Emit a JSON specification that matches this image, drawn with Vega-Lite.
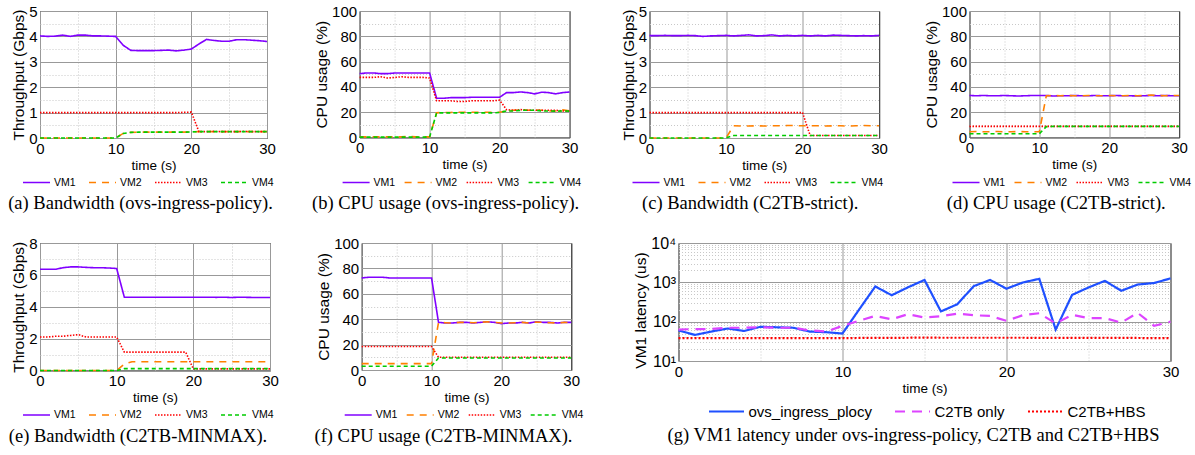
{
"$schema": "https://vega.github.io/schema/vega-lite/v6.json",
"background": "white",
"padding": {"left": 7, "top": 3, "right": 0, "bottom": 0},
"config": {
 "view": {"stroke": "#000", "strokeWidth": 1},
 "font": "Liberation Sans",
 "axis": {"domain": false, "ticks": false, "labelFont": "Liberation Sans", "labelFontSize": 15, "labelColor": "#000", "labelPadding": 3, "labelFlush": false, "labelOverlap": false, "titleFont": "Liberation Sans", "titleFontWeight": "normal", "titleColor": "#000", "gridWidth": 1},
 "axisX": {"titleFontSize": 13.5, "titlePadding": 2},
 "axisY": {"titleFontSize": 15.5, "titlePadding": 2},
 "legend": {"orient": "none", "direction": "horizontal", "title": null, "labelFont": "Liberation Sans", "labelFontSize": 10.5, "labelColor": "#000", "symbolType": "stroke", "symbolSize": 729, "symbolStrokeWidth": 1.6, "labelOffset": 3, "columnPadding": 9, "padding": 0},
 "title": {"orient": "bottom", "font": "Liberation Serif", "fontSize": 18.5, "fontWeight": "normal", "color": "#000", "anchor": "middle", "offset": 6}
},
"datasets": {
 "a": [
  {"t":0,"VM1":4.02,"VM2":0,"VM3":1,"VM4":0},{"t":1,"VM1":4.0,"VM2":0,"VM3":1,"VM4":0},{"t":2,"VM1":4.01,"VM2":0,"VM3":1,"VM4":0},{"t":3,"VM1":4.05,"VM2":0,"VM3":1,"VM4":0},{"t":4,"VM1":4.0,"VM2":0,"VM3":1,"VM4":0},{"t":5,"VM1":4.05,"VM2":0,"VM3":1,"VM4":0},{"t":6,"VM1":4.05,"VM2":0,"VM3":1,"VM4":0},{"t":7,"VM1":4.02,"VM2":0,"VM3":1,"VM4":0},{"t":8,"VM1":4.02,"VM2":0,"VM3":1,"VM4":0},{"t":9,"VM1":4.01,"VM2":0,"VM3":1,"VM4":0},{"t":10,"VM1":4.0,"VM2":0,"VM3":1,"VM4":0},
  {"t":11,"VM1":3.65,"VM2":0.18,"VM3":1,"VM4":0.18},{"t":12,"VM1":3.45,"VM2":0.22,"VM3":1,"VM4":0.22},{"t":13,"VM1":3.44,"VM2":0.23,"VM3":1,"VM4":0.23},{"t":14,"VM1":3.44,"VM2":0.23,"VM3":1,"VM4":0.23},{"t":15,"VM1":3.44,"VM2":0.23,"VM3":1,"VM4":0.23},{"t":16,"VM1":3.45,"VM2":0.23,"VM3":1,"VM4":0.23},{"t":17,"VM1":3.46,"VM2":0.23,"VM3":1,"VM4":0.23},{"t":18,"VM1":3.43,"VM2":0.23,"VM3":1,"VM4":0.23},{"t":19,"VM1":3.46,"VM2":0.23,"VM3":1.01,"VM4":0.23},{"t":20,"VM1":3.5,"VM2":0.24,"VM3":1.02,"VM4":0.24},
  {"t":21,"VM1":3.7,"VM2":0.25,"VM3":0.25,"VM4":0.25},{"t":22,"VM1":3.88,"VM2":0.25,"VM3":0.25,"VM4":0.25},{"t":23,"VM1":3.84,"VM2":0.25,"VM3":0.26,"VM4":0.25},{"t":24,"VM1":3.81,"VM2":0.25,"VM3":0.25,"VM4":0.25},{"t":25,"VM1":3.81,"VM2":0.25,"VM3":0.25,"VM4":0.25},{"t":26,"VM1":3.87,"VM2":0.25,"VM3":0.25,"VM4":0.25},{"t":27,"VM1":3.87,"VM2":0.25,"VM3":0.26,"VM4":0.25},{"t":28,"VM1":3.85,"VM2":0.25,"VM3":0.25,"VM4":0.25},{"t":29,"VM1":3.83,"VM2":0.25,"VM3":0.25,"VM4":0.25},{"t":30,"VM1":3.8,"VM2":0.25,"VM3":0.25,"VM4":0.25}
 ],
 "b": [
  {"t":0,"VM1":50.5,"VM2":0.5,"VM3":47.5,"VM4":0.3},{"t":1,"VM1":51,"VM2":0.5,"VM3":47.5,"VM4":0.3},{"t":2,"VM1":51,"VM2":0.5,"VM3":47.5,"VM4":0.3},{"t":3,"VM1":50.5,"VM2":0.5,"VM3":48,"VM4":0.3},{"t":4,"VM1":50.5,"VM2":0.5,"VM3":47,"VM4":0.3},{"t":5,"VM1":51,"VM2":0.5,"VM3":47.5,"VM4":0.3},{"t":6,"VM1":51,"VM2":0.5,"VM3":48,"VM4":0.3},{"t":7,"VM1":51,"VM2":0.8,"VM3":47.5,"VM4":0.3},{"t":8,"VM1":51,"VM2":0.5,"VM3":47.5,"VM4":0.3},{"t":9,"VM1":51,"VM2":0.5,"VM3":47.5,"VM4":0.3},{"t":10,"VM1":51,"VM2":0.5,"VM3":47,"VM4":0.3},
  {"t":11,"VM1":31,"VM2":19.5,"VM3":29,"VM4":19.5},{"t":12,"VM1":31,"VM2":19.8,"VM3":29,"VM4":19.5},{"t":13,"VM1":31.5,"VM2":19.8,"VM3":29,"VM4":19.5},{"t":14,"VM1":31.5,"VM2":20,"VM3":28.5,"VM4":19.5},{"t":15,"VM1":31.5,"VM2":20,"VM3":28.5,"VM4":19.5},{"t":16,"VM1":31.8,"VM2":20,"VM3":29,"VM4":19.5},{"t":17,"VM1":31.8,"VM2":20,"VM3":29,"VM4":19.5},{"t":18,"VM1":31.8,"VM2":20,"VM3":29,"VM4":19.5},{"t":19,"VM1":31.8,"VM2":20,"VM3":29,"VM4":19.5},{"t":20,"VM1":31.8,"VM2":20,"VM3":29.5,"VM4":19.8},
  {"t":21,"VM1":35.5,"VM2":21,"VM3":22,"VM4":21},{"t":22,"VM1":35.5,"VM2":21.5,"VM3":21.5,"VM4":21},{"t":23,"VM1":36,"VM2":22,"VM3":22,"VM4":21.5},{"t":24,"VM1":35.5,"VM2":21.5,"VM3":21.5,"VM4":21.5},{"t":25,"VM1":34.5,"VM2":21.8,"VM3":21.5,"VM4":21.5},{"t":26,"VM1":35.8,"VM2":21.5,"VM3":21.5,"VM4":21},{"t":27,"VM1":35.5,"VM2":21,"VM3":21.5,"VM4":21},{"t":28,"VM1":34.5,"VM2":21,"VM3":21.5,"VM4":20.8},{"t":29,"VM1":35.5,"VM2":21.8,"VM3":21,"VM4":21},{"t":30,"VM1":36,"VM2":21,"VM3":21,"VM4":20.8}
 ],
 "c": [
  {"t":0,"VM1":4.03,"VM2":0,"VM3":1,"VM4":0},{"t":1,"VM1":4.03,"VM2":0,"VM3":1,"VM4":0},{"t":2,"VM1":4.04,"VM2":0,"VM3":1,"VM4":0},{"t":3,"VM1":4.03,"VM2":0,"VM3":1,"VM4":0},{"t":4,"VM1":4.03,"VM2":0,"VM3":1,"VM4":0},{"t":5,"VM1":4.04,"VM2":0,"VM3":1,"VM4":0},{"t":6,"VM1":4.03,"VM2":0,"VM3":1,"VM4":0},{"t":7,"VM1":4.0,"VM2":0,"VM3":1,"VM4":0},{"t":8,"VM1":4.02,"VM2":0,"VM3":1,"VM4":0},{"t":9,"VM1":4.03,"VM2":0,"VM3":1,"VM4":0},{"t":10,"VM1":4.04,"VM2":0,"VM3":1,"VM4":0},
  {"t":11,"VM1":4.02,"VM2":0.48,"VM3":1,"VM4":0.1},{"t":12,"VM1":4.04,"VM2":0.47,"VM3":1,"VM4":0.1},{"t":13,"VM1":4.06,"VM2":0.47,"VM3":1,"VM4":0.1},{"t":14,"VM1":4.02,"VM2":0.48,"VM3":1,"VM4":0.1},{"t":15,"VM1":4.03,"VM2":0.47,"VM3":1,"VM4":0.1},{"t":16,"VM1":4.06,"VM2":0.48,"VM3":1,"VM4":0.1},{"t":17,"VM1":4.02,"VM2":0.48,"VM3":1,"VM4":0.1},{"t":18,"VM1":4.04,"VM2":0.49,"VM3":1,"VM4":0.1},{"t":19,"VM1":4.02,"VM2":0.49,"VM3":1,"VM4":0.1},{"t":20,"VM1":4.04,"VM2":0.48,"VM3":1,"VM4":0.1},
  {"t":21,"VM1":4.02,"VM2":0.48,"VM3":0.1,"VM4":0.1},{"t":22,"VM1":4.04,"VM2":0.48,"VM3":0.1,"VM4":0.1},{"t":23,"VM1":4.02,"VM2":0.47,"VM3":0.1,"VM4":0.1},{"t":24,"VM1":4.05,"VM2":0.48,"VM3":0.1,"VM4":0.1},{"t":25,"VM1":4.04,"VM2":0.48,"VM3":0.1,"VM4":0.1},{"t":26,"VM1":4.03,"VM2":0.47,"VM3":0.1,"VM4":0.1},{"t":27,"VM1":4.02,"VM2":0.48,"VM3":0.1,"VM4":0.1},{"t":28,"VM1":4.03,"VM2":0.49,"VM3":0.1,"VM4":0.1},{"t":29,"VM1":4.02,"VM2":0.48,"VM3":0.1,"VM4":0.1},{"t":30,"VM1":4.04,"VM2":0.48,"VM3":0.1,"VM4":0.1}
 ],
 "d": [
  {"t":0,"VM1":33.2,"VM2":4.5,"VM3":8.8,"VM4":3},{"t":1,"VM1":33,"VM2":4.8,"VM3":8.8,"VM4":3},{"t":2,"VM1":33.2,"VM2":4.5,"VM3":8.8,"VM4":3},{"t":3,"VM1":33,"VM2":4.5,"VM3":8.8,"VM4":3},{"t":4,"VM1":33,"VM2":4.8,"VM3":8.8,"VM4":3},{"t":5,"VM1":33.2,"VM2":4.5,"VM3":8.8,"VM4":3},{"t":6,"VM1":33,"VM2":4.5,"VM3":8.8,"VM4":3},{"t":7,"VM1":32.8,"VM2":4.8,"VM3":8.8,"VM4":3},{"t":8,"VM1":33,"VM2":4.5,"VM3":8.8,"VM4":3},{"t":9,"VM1":33.2,"VM2":4.5,"VM3":8.8,"VM4":3},{"t":10,"VM1":33.2,"VM2":4.5,"VM3":8.8,"VM4":3},
  {"t":11,"VM1":33.2,"VM2":33,"VM3":8.8,"VM4":8.6},{"t":12,"VM1":32.8,"VM2":33.2,"VM3":8.8,"VM4":8.8},{"t":13,"VM1":33,"VM2":33,"VM3":8.8,"VM4":8.8},{"t":14,"VM1":33,"VM2":33.2,"VM3":8.8,"VM4":8.8},{"t":15,"VM1":33.2,"VM2":33,"VM3":8.8,"VM4":8.8},{"t":16,"VM1":33,"VM2":33,"VM3":8.8,"VM4":8.8},{"t":17,"VM1":33,"VM2":33.2,"VM3":8.8,"VM4":8.8},{"t":18,"VM1":33.2,"VM2":33,"VM3":8.8,"VM4":8.8},{"t":19,"VM1":33,"VM2":33,"VM3":8.8,"VM4":8.8},{"t":20,"VM1":33,"VM2":33.2,"VM3":8.8,"VM4":8.8},
  {"t":21,"VM1":33.2,"VM2":33,"VM3":8.8,"VM4":8.8},{"t":22,"VM1":33,"VM2":33,"VM3":8.8,"VM4":8.8},{"t":23,"VM1":33,"VM2":33.2,"VM3":8.8,"VM4":8.8},{"t":24,"VM1":32.8,"VM2":33,"VM3":8.8,"VM4":8.8},{"t":25,"VM1":33,"VM2":33.2,"VM3":8.8,"VM4":8.8},{"t":26,"VM1":33.2,"VM2":33.5,"VM3":8.8,"VM4":8.8},{"t":27,"VM1":33,"VM2":33.2,"VM3":8.8,"VM4":8.8},{"t":28,"VM1":33.2,"VM2":33,"VM3":8.8,"VM4":8.8},{"t":29,"VM1":33,"VM2":33.2,"VM3":8.8,"VM4":8.8},{"t":30,"VM1":33,"VM2":33.2,"VM3":8.8,"VM4":8.8}
 ],
 "e": [
  {"t":0,"VM1":6.35,"VM2":0,"VM3":2.1,"VM4":0},{"t":1,"VM1":6.35,"VM2":0,"VM3":2.1,"VM4":0},{"t":2,"VM1":6.35,"VM2":0,"VM3":2.15,"VM4":0},{"t":3,"VM1":6.45,"VM2":0,"VM3":2.15,"VM4":0},{"t":4,"VM1":6.5,"VM2":0,"VM3":2.2,"VM4":0},{"t":5,"VM1":6.5,"VM2":0,"VM3":2.25,"VM4":0},{"t":6,"VM1":6.47,"VM2":0,"VM3":2.1,"VM4":0},{"t":7,"VM1":6.45,"VM2":0,"VM3":2.1,"VM4":0},{"t":8,"VM1":6.45,"VM2":0,"VM3":2.1,"VM4":0},{"t":9,"VM1":6.43,"VM2":0,"VM3":2.1,"VM4":0},{"t":10,"VM1":6.4,"VM2":0,"VM3":2.1,"VM4":0},
  {"t":11,"VM1":4.6,"VM2":0.4,"VM3":1.15,"VM4":0.12},{"t":12,"VM1":4.6,"VM2":0.55,"VM3":1.15,"VM4":0.12},{"t":13,"VM1":4.6,"VM2":0.55,"VM3":1.15,"VM4":0.12},{"t":14,"VM1":4.6,"VM2":0.55,"VM3":1.15,"VM4":0.12},{"t":15,"VM1":4.6,"VM2":0.55,"VM3":1.15,"VM4":0.12},{"t":16,"VM1":4.6,"VM2":0.55,"VM3":1.15,"VM4":0.12},{"t":17,"VM1":4.6,"VM2":0.55,"VM3":1.15,"VM4":0.12},{"t":18,"VM1":4.6,"VM2":0.55,"VM3":1.15,"VM4":0.12},{"t":19,"VM1":4.6,"VM2":0.55,"VM3":1.15,"VM4":0.12},{"t":20,"VM1":4.6,"VM2":0.55,"VM3":0.1,"VM4":0.12},
  {"t":21,"VM1":4.6,"VM2":0.55,"VM3":0.1,"VM4":0.12},{"t":22,"VM1":4.6,"VM2":0.55,"VM3":0.1,"VM4":0.12},{"t":23,"VM1":4.59,"VM2":0.55,"VM3":0.1,"VM4":0.12},{"t":24,"VM1":4.6,"VM2":0.55,"VM3":0.1,"VM4":0.12},{"t":25,"VM1":4.58,"VM2":0.55,"VM3":0.1,"VM4":0.12},{"t":26,"VM1":4.6,"VM2":0.55,"VM3":0.1,"VM4":0.12},{"t":27,"VM1":4.59,"VM2":0.55,"VM3":0.1,"VM4":0.12},{"t":28,"VM1":4.58,"VM2":0.55,"VM3":0.1,"VM4":0.12},{"t":29,"VM1":4.58,"VM2":0.55,"VM3":0.1,"VM4":0.12},{"t":30,"VM1":4.58,"VM2":0.55,"VM3":0.1,"VM4":0.12}
 ],
 "f": [
  {"t":0,"VM1":72.5,"VM2":5,"VM3":18.5,"VM4":3},{"t":1,"VM1":73,"VM2":5,"VM3":18.5,"VM4":3},{"t":2,"VM1":73,"VM2":5,"VM3":18.5,"VM4":3},{"t":3,"VM1":73,"VM2":5,"VM3":18.5,"VM4":3},{"t":4,"VM1":72.5,"VM2":5,"VM3":18.5,"VM4":3},{"t":5,"VM1":72.5,"VM2":5,"VM3":18.5,"VM4":3},{"t":6,"VM1":72.5,"VM2":5,"VM3":18.5,"VM4":3},{"t":7,"VM1":72.5,"VM2":5,"VM3":18.5,"VM4":3},{"t":8,"VM1":72.5,"VM2":5,"VM3":18.5,"VM4":3},{"t":9,"VM1":72.5,"VM2":5,"VM3":18.5,"VM4":3},{"t":10,"VM1":72.5,"VM2":5,"VM3":18.5,"VM4":3},
  {"t":11,"VM1":37.5,"VM2":37.5,"VM3":10,"VM4":9.5},{"t":12,"VM1":37,"VM2":37.2,"VM3":10,"VM4":9.5},{"t":13,"VM1":37,"VM2":37,"VM3":10,"VM4":9.5},{"t":14,"VM1":37.5,"VM2":37.5,"VM3":10,"VM4":9.5},{"t":15,"VM1":37.5,"VM2":37.5,"VM3":10,"VM4":9.5},{"t":16,"VM1":37,"VM2":37.2,"VM3":10,"VM4":9.5},{"t":17,"VM1":37.5,"VM2":37.5,"VM3":10,"VM4":9.5},{"t":18,"VM1":38,"VM2":38,"VM3":10,"VM4":9.5},{"t":19,"VM1":37.5,"VM2":37.5,"VM3":10,"VM4":9.5},{"t":20,"VM1":36.5,"VM2":37,"VM3":10,"VM4":9.5},
  {"t":21,"VM1":37,"VM2":37,"VM3":10,"VM4":9.5},{"t":22,"VM1":37,"VM2":37.2,"VM3":10,"VM4":9.5},{"t":23,"VM1":37.5,"VM2":37.5,"VM3":10,"VM4":9.5},{"t":24,"VM1":37,"VM2":37,"VM3":10,"VM4":9.5},{"t":25,"VM1":38,"VM2":37.8,"VM3":10,"VM4":9.5},{"t":26,"VM1":37.5,"VM2":37.5,"VM3":10,"VM4":9.5},{"t":27,"VM1":37.5,"VM2":37.2,"VM3":10,"VM4":9.5},{"t":28,"VM1":37,"VM2":37,"VM3":10,"VM4":9.5},{"t":29,"VM1":37.5,"VM2":37.5,"VM3":10,"VM4":9.5},{"t":30,"VM1":37.5,"VM2":37.2,"VM3":10,"VM4":9.5}
 ],
 "g": [
  {"t":0,"ovs_ingress_plocy":60,"C2TB only":63,"C2TB+HBS":38},{"t":1,"ovs_ingress_plocy":46,"C2TB only":65,"C2TB+HBS":38},{"t":2,"ovs_ingress_plocy":56,"C2TB only":65,"C2TB+HBS":38},{"t":3,"ovs_ingress_plocy":67,"C2TB only":70,"C2TB+HBS":38},{"t":4,"ovs_ingress_plocy":58,"C2TB only":70,"C2TB+HBS":38},{"t":5,"ovs_ingress_plocy":74,"C2TB only":72,"C2TB+HBS":38},{"t":6,"ovs_ingress_plocy":72,"C2TB only":70,"C2TB+HBS":38},{"t":7,"ovs_ingress_plocy":70,"C2TB only":70,"C2TB+HBS":38},{"t":8,"ovs_ingress_plocy":56,"C2TB only":60,"C2TB+HBS":38},{"t":9,"ovs_ingress_plocy":54,"C2TB only":56,"C2TB+HBS":38},{"t":10,"ovs_ingress_plocy":50,"C2TB only":78,"C2TB+HBS":38},
  {"t":11,"ovs_ingress_plocy":200,"C2TB only":105,"C2TB+HBS":38.5},{"t":12,"ovs_ingress_plocy":785,"C2TB only":140,"C2TB+HBS":38.5},{"t":13,"ovs_ingress_plocy":470,"C2TB only":115,"C2TB+HBS":38.5},{"t":14,"ovs_ingress_plocy":750,"C2TB only":155,"C2TB+HBS":39},{"t":15,"ovs_ingress_plocy":1150,"C2TB only":127,"C2TB+HBS":39.5},{"t":16,"ovs_ingress_plocy":182,"C2TB only":137,"C2TB+HBS":39},{"t":17,"ovs_ingress_plocy":277,"C2TB only":160,"C2TB+HBS":39},{"t":18,"ovs_ingress_plocy":800,"C2TB only":146,"C2TB+HBS":39},{"t":19,"ovs_ingress_plocy":1150,"C2TB only":140,"C2TB+HBS":39},{"t":20,"ovs_ingress_plocy":690,"C2TB only":105,"C2TB+HBS":39},
  {"t":21,"ovs_ingress_plocy":990,"C2TB only":146,"C2TB+HBS":39},{"t":22,"ovs_ingress_plocy":1230,"C2TB only":164,"C2TB+HBS":38.5},{"t":23,"ovs_ingress_plocy":63,"C2TB only":90,"C2TB+HBS":38.5},{"t":24,"ovs_ingress_plocy":480,"C2TB only":150,"C2TB+HBS":38.5},{"t":25,"ovs_ingress_plocy":740,"C2TB only":123,"C2TB+HBS":38.5},{"t":26,"ovs_ingress_plocy":1090,"C2TB only":123,"C2TB+HBS":39},{"t":27,"ovs_ingress_plocy":610,"C2TB only":95,"C2TB+HBS":38.5},{"t":28,"ovs_ingress_plocy":880,"C2TB only":167,"C2TB+HBS":38.5},{"t":29,"ovs_ingress_plocy":960,"C2TB only":78,"C2TB+HBS":38},{"t":30,"ovs_ingress_plocy":1260,"C2TB only":100,"C2TB+HBS":38}
 ]
},
"vconcat": [
 {"hconcat": [
  {"hconcat": [
   {"width": 227, "height": 127, "data": {"name": "a"},
    "transform": [{"fold": ["VM1","VM2","VM3","VM4"], "as": ["s","v"]}],
    "mark": {"type": "line", "strokeWidth": 1.6},
    "encoding": {
     "x": {"field": "t", "type": "quantitative", "scale": {"domain": [0,30], "nice": false}, "axis": {"title": "time (s)", "values": [0,5,10,15,20,25,30], "labelExpr": "datum.value % 10 === 0 ? format(datum.value,'d') : ''", "gridDash": {"condition": {"test": "datum.value % 10 === 0", "value": []}, "value": [1,2]}, "gridColor": {"condition": {"test": "datum.value % 10 === 0", "value": "#999999"}, "value": "#c8c8c8"}}},
     "y": {"field": "v", "type": "quantitative", "scale": {"domain": [0,5], "nice": false}, "axis": {"title": "Throughput (Gbps)", "values": [0,0.5,1,1.5,2,2.5,3,3.5,4,4.5,5], "labelExpr": "datum.value % 1 === 0 ? format(datum.value,'d') : ''", "gridDash": {"condition": {"test": "datum.value % 1 === 0", "value": []}, "value": [1,2]}, "gridColor": {"condition": {"test": "datum.value % 1 === 0", "value": "#999999"}, "value": "#c8c8c8"}}},
     "color": {"field": "s", "type": "nominal", "scale": {"domain": ["VM1","VM2","VM3","VM4"], "range": ["#8000ff","#ff8000","#ff0000","#00cc00"]}, "legend": {"legendX": -18, "legendY": 157}},
     "strokeDash": {"field": "s", "type": "nominal", "scale": {"domain": ["VM1","VM2","VM3","VM4"], "range": [[1,0],[7,6],[1.5,1.5],[4,3]]}, "legend": {"legendX": -18, "legendY": 157}}
    },
    "title": {"text": "(a) Bandwidth (ovs-ingress-policy).", "dx": -13}
   },
   {"width": 210, "height": 126.5, "data": {"name": "b"},
    "transform": [{"fold": ["VM1","VM2","VM3","VM4"], "as": ["s","v"]}],
    "mark": {"type": "line", "strokeWidth": 1.6},
    "encoding": {
     "x": {"field": "t", "type": "quantitative", "scale": {"domain": [0,30], "nice": false}, "axis": {"title": "time (s)", "values": [0,5,10,15,20,25,30], "labelExpr": "datum.value % 10 === 0 ? format(datum.value,'d') : ''", "gridDash": {"condition": {"test": "datum.value % 10 === 0", "value": []}, "value": [1,2]}, "gridColor": {"condition": {"test": "datum.value % 10 === 0", "value": "#999999"}, "value": "#c8c8c8"}}},
     "y": {"field": "v", "type": "quantitative", "scale": {"domain": [0,100], "nice": false}, "axis": {"title": "CPU usage (%)", "values": [0,10,20,30,40,50,60,70,80,90,100], "labelExpr": "datum.value % 20 === 0 ? format(datum.value,'d') : ''", "gridDash": {"condition": {"test": "datum.value % 20 === 0", "value": []}, "value": [1,2]}, "gridColor": {"condition": {"test": "datum.value % 20 === 0", "value": "#999999"}, "value": "#c8c8c8"}}},
     "color": {"field": "s", "type": "nominal", "scale": {"domain": ["VM1","VM2","VM3","VM4"], "range": ["#8000ff","#ff8000","#ff0000","#00cc00"]}, "legend": {"legendX": -18, "legendY": 157, "columnPadding": 5}},
     "strokeDash": {"field": "s", "type": "nominal", "scale": {"domain": ["VM1","VM2","VM3","VM4"], "range": [[1,0],[7,6],[1.5,1.5],[4,3]]}, "legend": {"legendX": -18, "legendY": 157, "columnPadding": 5}}
    },
    "title": {"text": "(b) CPU usage (ovs-ingress-policy).", "dx": -19}
   }
  ], "spacing": 92.6, "bounds": "flush", "resolve": {"scale": {"x": "independent", "y": "independent", "color": "independent", "strokeDash": "independent"}, "legend": {"color": "independent", "strokeDash": "independent"}}},
  {"hconcat": [
   {"width": 229.5, "height": 127, "data": {"name": "c"},
    "transform": [{"fold": ["VM1","VM2","VM3","VM4"], "as": ["s","v"]}],
    "mark": {"type": "line", "strokeWidth": 1.6},
    "encoding": {
     "x": {"field": "t", "type": "quantitative", "scale": {"domain": [0,30], "nice": false}, "axis": {"title": "time (s)", "values": [0,5,10,15,20,25,30], "labelExpr": "datum.value % 10 === 0 ? format(datum.value,'d') : ''", "gridDash": {"condition": {"test": "datum.value % 10 === 0", "value": []}, "value": [1,2]}, "gridColor": {"condition": {"test": "datum.value % 10 === 0", "value": "#999999"}, "value": "#c8c8c8"}}},
     "y": {"field": "v", "type": "quantitative", "scale": {"domain": [0,5], "nice": false}, "axis": {"title": "Throughput (Gbps)", "values": [0,0.5,1,1.5,2,2.5,3,3.5,4,4.5,5], "labelExpr": "datum.value % 1 === 0 ? format(datum.value,'d') : ''", "gridDash": {"condition": {"test": "datum.value % 1 === 0", "value": []}, "value": [1,2]}, "gridColor": {"condition": {"test": "datum.value % 1 === 0", "value": "#999999"}, "value": "#c8c8c8"}}},
     "color": {"field": "s", "type": "nominal", "scale": {"domain": ["VM1","VM2","VM3","VM4"], "range": ["#8000ff","#ff8000","#ff0000","#00cc00"]}, "legend": {"legendX": -18, "legendY": 157}},
     "strokeDash": {"field": "s", "type": "nominal", "scale": {"domain": ["VM1","VM2","VM3","VM4"], "range": [[1,0],[7,6],[1.5,1.5],[4,3]]}, "legend": {"legendX": -18, "legendY": 157}}
    },
    "title": {"text": "(c) Bandwidth (C2TB-strict).", "dx": -14}
   },
   {"width": 209.5, "height": 126.5, "data": {"name": "d"},
    "transform": [{"fold": ["VM1","VM2","VM3","VM4"], "as": ["s","v"]}],
    "mark": {"type": "line", "strokeWidth": 1.6},
    "encoding": {
     "x": {"field": "t", "type": "quantitative", "scale": {"domain": [0,30], "nice": false}, "axis": {"title": "time (s)", "values": [0,5,10,15,20,25,30], "labelExpr": "datum.value % 10 === 0 ? format(datum.value,'d') : ''", "gridDash": {"condition": {"test": "datum.value % 10 === 0", "value": []}, "value": [1,2]}, "gridColor": {"condition": {"test": "datum.value % 10 === 0", "value": "#999999"}, "value": "#c8c8c8"}}},
     "y": {"field": "v", "type": "quantitative", "scale": {"domain": [0,100], "nice": false}, "axis": {"title": "CPU usage (%)", "values": [0,10,20,30,40,50,60,70,80,90,100], "labelExpr": "datum.value % 20 === 0 ? format(datum.value,'d') : ''", "gridDash": {"condition": {"test": "datum.value % 20 === 0", "value": []}, "value": [1,2]}, "gridColor": {"condition": {"test": "datum.value % 20 === 0", "value": "#999999"}, "value": "#c8c8c8"}}},
     "color": {"field": "s", "type": "nominal", "scale": {"domain": ["VM1","VM2","VM3","VM4"], "range": ["#8000ff","#ff8000","#ff0000","#00cc00"]}, "legend": {"legendX": -18, "legendY": 157, "columnPadding": 5}},
     "strokeDash": {"field": "s", "type": "nominal", "scale": {"domain": ["VM1","VM2","VM3","VM4"], "range": [[1,0],[7,6],[1.5,1.5],[4,3]]}, "legend": {"legendX": -18, "legendY": 157, "columnPadding": 5}}
    },
    "title": {"text": "(d) CPU usage (C2TB-strict).", "dx": -18}
   }
  ], "spacing": 90, "bounds": "flush", "resolve": {"scale": {"x": "independent", "y": "independent", "color": "independent", "strokeDash": "independent"}, "legend": {"color": "independent", "strokeDash": "independent"}}}
 ], "spacing": 37.5, "resolve": {"scale": {"x": "independent", "y": "independent", "color": "independent", "strokeDash": "independent"}, "legend": {"color": "independent", "strokeDash": "independent"}}},
 {"hconcat": [
  {"hconcat": [
   {"width": 230, "height": 127.5, "data": {"name": "e"},
    "transform": [{"fold": ["VM1","VM2","VM3","VM4"], "as": ["s","v"]}],
    "mark": {"type": "line", "strokeWidth": 1.6},
    "encoding": {
     "x": {"field": "t", "type": "quantitative", "scale": {"domain": [0,30], "nice": false}, "axis": {"title": "time (s)", "values": [0,5,10,15,20,25,30], "labelExpr": "datum.value % 10 === 0 ? format(datum.value,'d') : ''", "gridDash": {"condition": {"test": "datum.value % 10 === 0", "value": []}, "value": [1,2]}, "gridColor": {"condition": {"test": "datum.value % 10 === 0", "value": "#999999"}, "value": "#c8c8c8"}}},
     "y": {"field": "v", "type": "quantitative", "scale": {"domain": [0,8], "nice": false}, "axis": {"title": "Throughput (Gbps)", "values": [0,1,2,3,4,5,6,7,8], "labelExpr": "datum.value % 2 === 0 ? format(datum.value,'d') : ''", "gridDash": {"condition": {"test": "datum.value % 2 === 0", "value": []}, "value": [1,2]}, "gridColor": {"condition": {"test": "datum.value % 2 === 0", "value": "#999999"}, "value": "#c8c8c8"}}},
     "color": {"field": "s", "type": "nominal", "scale": {"domain": ["VM1","VM2","VM3","VM4"], "range": ["#8000ff","#ff8000","#ff0000","#00cc00"]}, "legend": {"legendX": -18, "legendY": 157.5}},
     "strokeDash": {"field": "s", "type": "nominal", "scale": {"domain": ["VM1","VM2","VM3","VM4"], "range": [[1,0],[7,6],[1.5,1.5],[4,3]]}, "legend": {"legendX": -18, "legendY": 157.5}}
    },
    "title": {"text": "(e) Bandwidth (C2TB-MINMAX).", "dx": -17}
   },
   {"width": 209.5, "height": 127, "data": {"name": "f"},
    "transform": [{"fold": ["VM1","VM2","VM3","VM4"], "as": ["s","v"]}],
    "mark": {"type": "line", "strokeWidth": 1.6},
    "encoding": {
     "x": {"field": "t", "type": "quantitative", "scale": {"domain": [0,30], "nice": false}, "axis": {"title": "time (s)", "values": [0,5,10,15,20,25,30], "labelExpr": "datum.value % 10 === 0 ? format(datum.value,'d') : ''", "gridDash": {"condition": {"test": "datum.value % 10 === 0", "value": []}, "value": [1,2]}, "gridColor": {"condition": {"test": "datum.value % 10 === 0", "value": "#999999"}, "value": "#c8c8c8"}}},
     "y": {"field": "v", "type": "quantitative", "scale": {"domain": [0,100], "nice": false}, "axis": {"title": "CPU usage (%)", "values": [0,10,20,30,40,50,60,70,80,90,100], "labelExpr": "datum.value % 20 === 0 ? format(datum.value,'d') : ''", "gridDash": {"condition": {"test": "datum.value % 20 === 0", "value": []}, "value": [1,2]}, "gridColor": {"condition": {"test": "datum.value % 20 === 0", "value": "#999999"}, "value": "#c8c8c8"}}},
     "color": {"field": "s", "type": "nominal", "scale": {"domain": ["VM1","VM2","VM3","VM4"], "range": ["#8000ff","#ff8000","#ff0000","#00cc00"]}, "legend": {"legendX": -18, "legendY": 157.5, "columnPadding": 5}},
     "strokeDash": {"field": "s", "type": "nominal", "scale": {"domain": ["VM1","VM2","VM3","VM4"], "range": [[1,0],[7,6],[1.5,1.5],[4,3]]}, "legend": {"legendX": -18, "legendY": 157.5, "columnPadding": 5}}
    },
    "title": {"text": "(f) CPU usage (C2TB-MINMAX).", "dx": -23}
   }
  ], "spacing": 91.7, "bounds": "flush", "resolve": {"scale": {"x": "independent", "y": "independent", "color": "independent", "strokeDash": "independent"}, "legend": {"color": "independent", "strokeDash": "independent"}}},
  {"width": 492, "height": 118, "data": {"name": "g"},
   "transform": [{"fold": ["ovs_ingress_plocy","C2TB only","C2TB+HBS"], "as": ["s","v"]}],
   "mark": {"type": "line", "strokeWidth": 2.2},
   "encoding": {
    "x": {"field": "t", "type": "quantitative", "scale": {"domain": [0,30], "nice": false}, "axis": {"title": "time (s)", "values": [0,5,10,15,20,25,30], "labelExpr": "datum.value % 10 === 0 ? format(datum.value,'d') : ''", "gridDash": {"condition": {"test": "datum.value % 10 === 0", "value": []}, "value": [1,2]}, "gridColor": {"condition": {"test": "datum.value % 10 === 0", "value": "#999999"}, "value": "#c8c8c8"}}},
    "y": {"field": "v", "type": "quantitative", "scale": {"type": "log", "domain": [10,10000], "nice": false}, "axis": {"title": "VM1 latency (us)", "titlePadding": 2, "titleY": 67, "labelFontSize": 16, "values": [10,20,30,40,50,60,70,80,90,100,200,300,400,500,600,700,800,900,1000,2000,3000,4000,5000,6000,7000,8000,9000,10000], "labelExpr": "datum.value === 10 ? '10¹' : datum.value === 100 ? '10²' : datum.value === 1000 ? '10³' : datum.value === 10000 ? '10⁴' : ''", "gridDash": {"condition": {"test": "indexof([10,100,1000,10000], datum.value) >= 0", "value": []}, "value": [1,2]}, "gridColor": {"condition": {"test": "indexof([10,100,1000,10000], datum.value) >= 0", "value": "#999999"}, "value": "#c8c8c8"}}},
    "color": {"field": "s", "type": "nominal", "scale": {"domain": ["ovs_ingress_plocy","C2TB only","C2TB+HBS"], "range": ["#1f50ff","#dd44ff","#ff0000"]}, "legend": {"legendX": 29, "legendY": 149.5, "labelFontSize": 15, "symbolSize": 1225, "symbolStrokeWidth": 2.2, "columnPadding": 18}},
    "strokeDash": {"field": "s", "type": "nominal", "scale": {"domain": ["ovs_ingress_plocy","C2TB only","C2TB+HBS"], "range": [[1,0],[10,7],[2,2]]}, "legend": {"legendX": 29, "legendY": 149.5, "labelFontSize": 15, "symbolSize": 1225, "symbolStrokeWidth": 2.2, "columnPadding": 18}}
   },
   "title": {"text": "(g) VM1 latency under ovs-ingress-policy, C2TB and C2TB+HBS", "dx": -11}
  }
 ], "spacing": 47.5, "resolve": {"scale": {"x": "independent", "y": "independent", "color": "independent", "strokeDash": "independent"}, "legend": {"color": "independent", "strokeDash": "independent"}}}
],
"spacing": 21,
"resolve": {"scale": {"x": "independent", "y": "independent", "color": "independent", "strokeDash": "independent"}, "legend": {"color": "independent", "strokeDash": "independent"}}
}
